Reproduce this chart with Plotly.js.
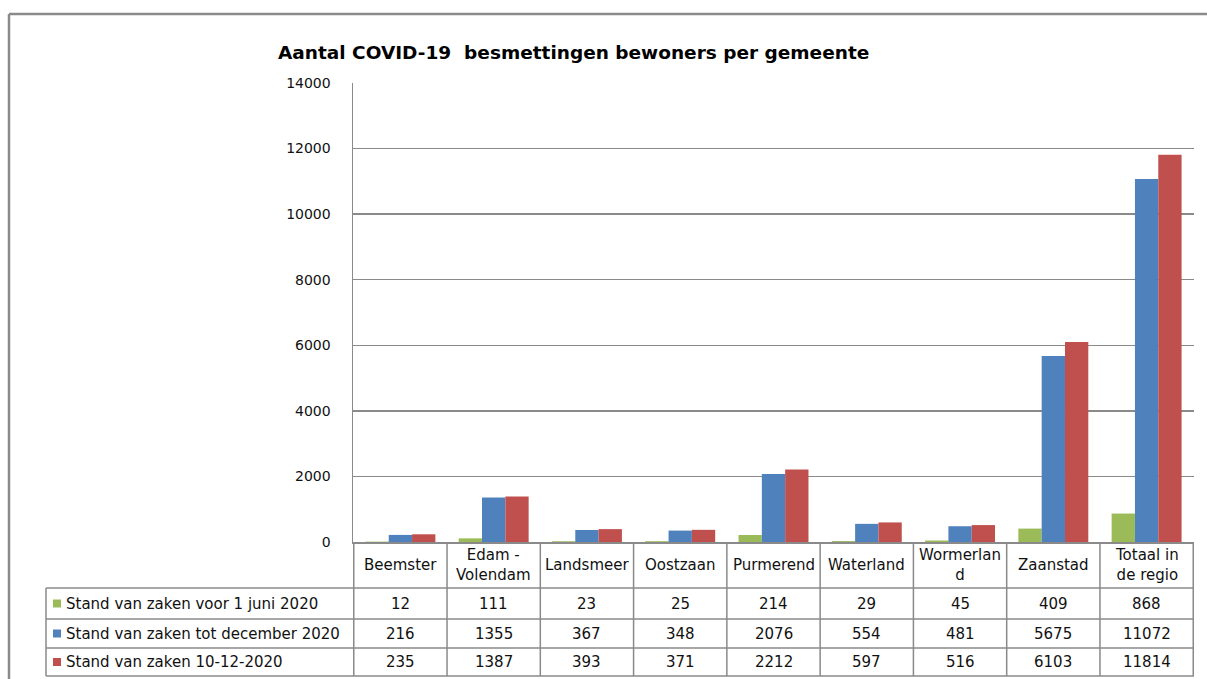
<!DOCTYPE html>
<html>
<head>
<meta charset="utf-8">
<script src="https://cdn.plot.ly/plotly-3.0.1.min.js"></script>
<style>html,body{margin:0;padding:0;background:#fff;}#chart{width:1207px;height:679px;}</style>
</head>
<body>
<div id="chart"></div>
<script>
// ---- data ----
const categories = ["Beemster", "Edam -<br>Volendam", "Landsmeer", "Oostzaan", "Purmerend", "Waterland", "Wormerlan<br>d", "Zaanstad", "Totaal in<br>de regio"];
const seriesNames = ["Stand van zaken voor 1 juni 2020", "Stand van zaken tot december 2020", "Stand van zaken 10-12-2020"];
const voorJuni = [12, 111, 23, 25, 214, 29, 45, 409, 868];
const totDecember = [216, 1355, 367, 348, 2076, 554, 481, 5675, 11072];
const stand10dec = [235, 1387, 393, 371, 2212, 597, 516, 6103, 11814];
const yTicks = [0, 2000, 4000, 6000, 8000, 10000, 12000, 14000];
const titleText = "Aantal COVID-19\u00a0 besmettingen bewoners per gemeente";

// ---- styling / geometry ----
const W = 1207, H = 679;
const M = {l: 353, r: 13, t: 83, b: 137};
const PW = W - M.l - M.r, PH = H - M.t - M.b;
const px2x = x => (x - M.l) / PW;
const px2y = y => (H - M.b - y) / PH;
const colors = ["#9BBB59", "#4F81BD", "#C0504D"];
const lineCol = "#8a8a8a";
const FONT = "'DejaVu Sans', 'Liberation Sans', sans-serif";
const txtCol = "#111";
const series = [voorJuni, totDecember, stand10dec];

const traces = series.map((vals, s) => ({
  type: "bar",
  x: categories,
  y: vals,
  name: seriesNames[s],
  marker: {color: colors[s]},
  hoverinfo: "x+y"
}));

// table geometry (pixels)
const headerTop = 542, headerBot = 588;
const rowLines = [588, 619, 648, 676];
const legendLeft = 46;

const shapes = [];
const annotations = [];
const line = (x0, y0, x1, y1, xref, w) => shapes.push({
  type: "line", xref: xref || "paper", yref: "paper",
  x0: x0, x1: x1, y0: y0, y1: y1,
  line: {color: lineCol, width: w || 1.5}
});

// outer frame
line(px2x(9), px2y(14), px2x(W + 5), px2y(14), "paper", 2.5);
line(px2x(9), px2y(14), px2x(9), px2y(H + 5), "paper", 2.5);

// table horizontal lines
rowLines.forEach(y => line(px2x(legendLeft), px2y(y), 1, px2y(y)));
// table vertical lines: legend column left edge, category boundaries
line(px2x(legendLeft), px2y(headerBot), px2x(legendLeft), px2y(rowLines[3]));
for (let i = 0; i <= categories.length; i++) {
  line(i - 0.5, px2y(headerTop), i - 0.5, px2y(rowLines[3]), "x");
}

// header labels
categories.forEach(c => annotations.push({
  x: c, xref: "x", y: px2y((headerTop + headerBot) / 2), yref: "paper",
  text: c, showarrow: false, xanchor: "center", yanchor: "middle",
  font: {family: FONT, size: 15, color: txtCol}
}));

// rows: legend key + values
series.forEach((vals, s) => {
  const yc = px2y((rowLines[s] + rowLines[s + 1]) / 2);
  shapes.push({
    type: "rect", xref: "paper", yref: "paper",
    x0: px2x(53), x1: px2x(61),
    y0: yc - 4 / PH, y1: yc + 4 / PH,
    fillcolor: colors[s], line: {width: 0}
  });
  annotations.push({
    x: px2x(64), xref: "paper", y: yc, yref: "paper",
    text: seriesNames[s], showarrow: false, xanchor: "left", yanchor: "middle",
    font: {family: FONT, size: 15, color: txtCol}
  });
  vals.forEach((v, i) => annotations.push({
    x: categories[i], xref: "x", y: yc, yref: "paper",
    text: String(v), showarrow: false, xanchor: "center", yanchor: "middle",
    font: {family: FONT, size: 15, color: txtCol}
  }));
});

const layout = {
  width: W, height: H,
  margin: M,
  paper_bgcolor: "#fff", plot_bgcolor: "#fff",
  showlegend: false,
  barmode: "group",
  bargap: 0.25, bargroupgap: 0,
  title: {
    text: "<b>" + titleText + "</b>",
    x: 278 / W, xanchor: "left", xref: "container",
    y: 1 - 53 / H, yanchor: "middle", yref: "container",
    font: {family: FONT, size: 18.5, color: "#000"}
  },
  xaxis: {
    showticklabels: false, ticks: "", showgrid: false,
    showline: true, linecolor: lineCol, linewidth: 1.5, zeroline: false,
    fixedrange: true
  },
  yaxis: {
    range: [0, 14000], tickvals: yTicks, ticktext: yTicks.map(String),
    showgrid: true, gridcolor: lineCol, gridwidth: 1.5,
    showline: true, linecolor: lineCol, linewidth: 1.5, zeroline: false,
    ticks: "", ticklabelstandoff: 18,
    tickfont: {family: FONT, size: 14, color: txtCol},
    fixedrange: true
  },
  shapes: shapes,
  annotations: annotations
};

Plotly.newPlot("chart", traces, layout, {displayModeBar: false, staticPlot: true});
</script>
</body>
</html>
